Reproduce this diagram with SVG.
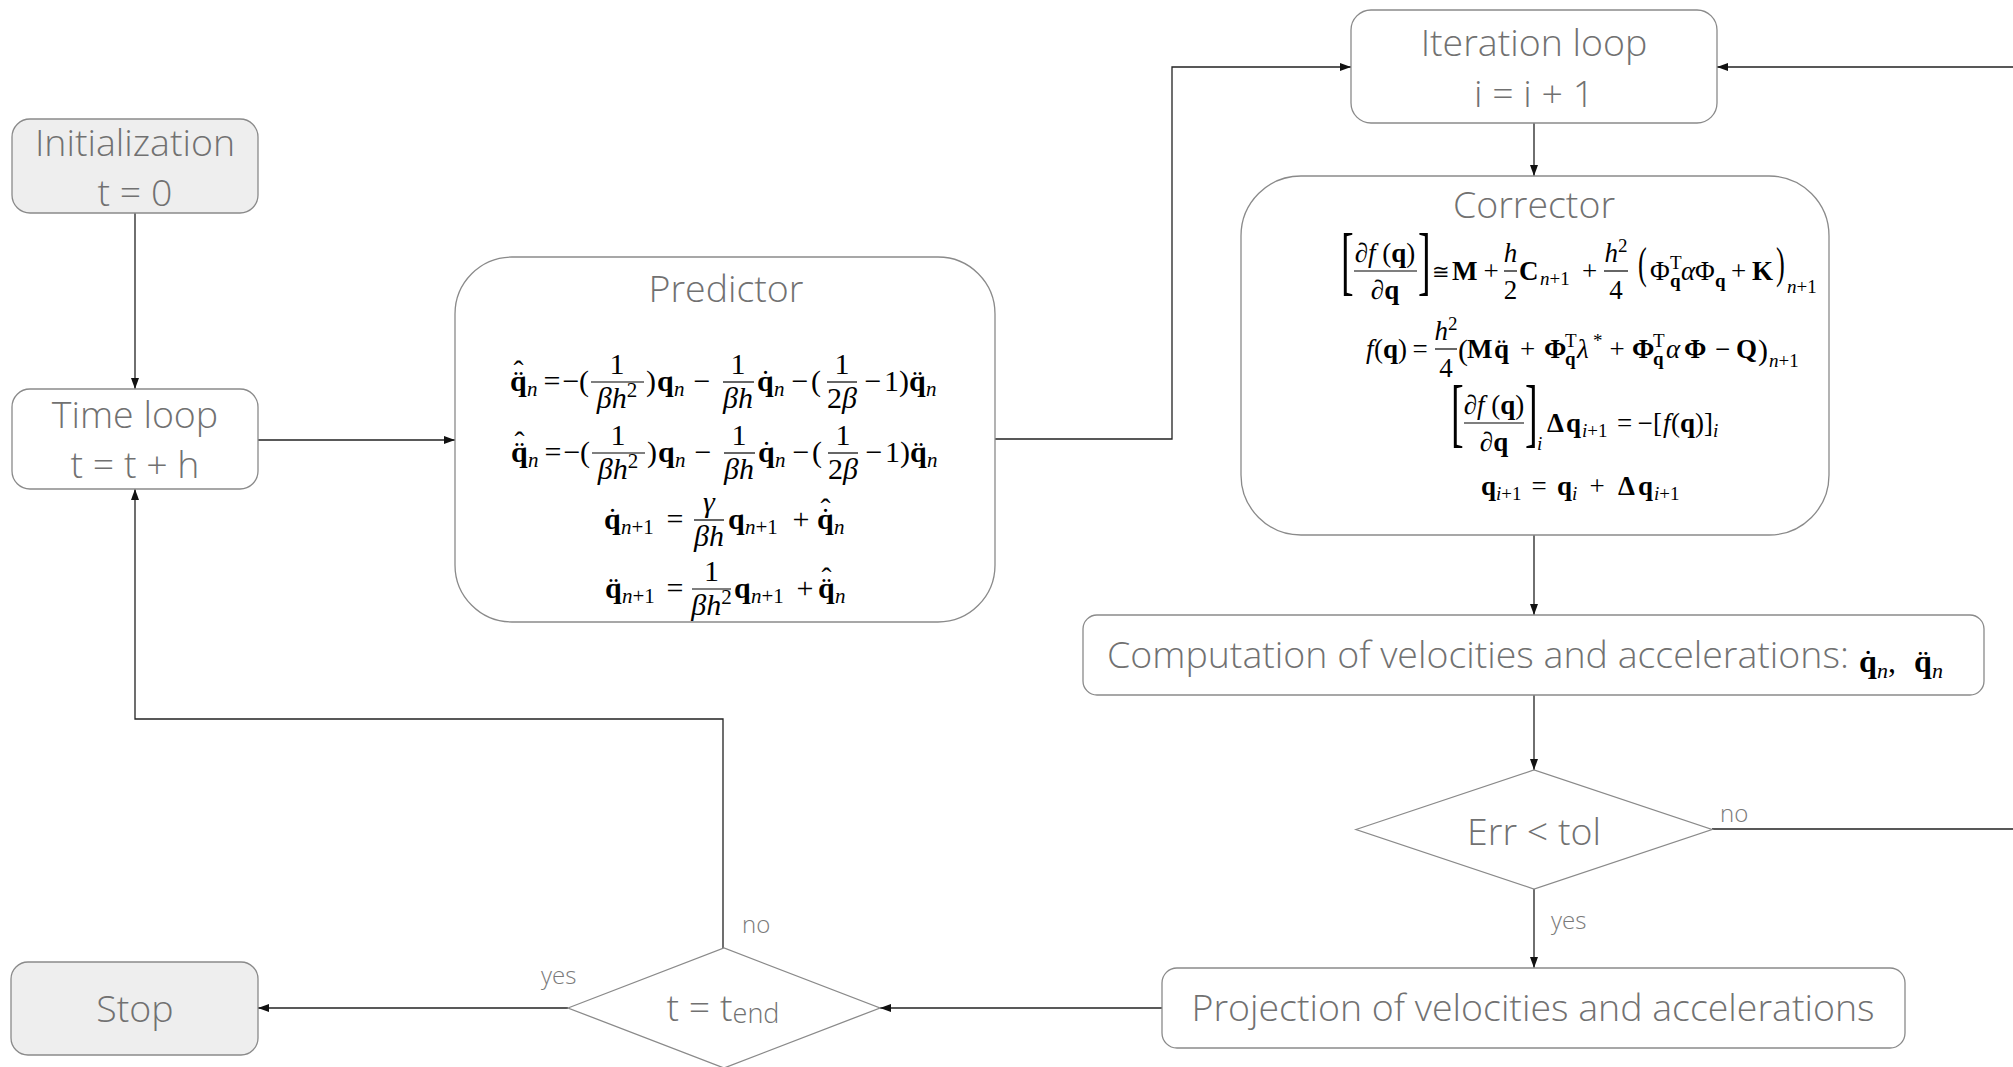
<svg xmlns="http://www.w3.org/2000/svg" width="2013" height="1067" viewBox="0 0 2013 1067">
<style>
.box{fill:#fff;stroke:#8a8a8a;stroke-width:1.3}
.term{fill:#eeeeee;stroke:#8a8a8a;stroke-width:1.3}
.lbl{font-family:"Open Sans","Liberation Sans",sans-serif;font-weight:300;fill:#717171;font-size:37.5px;text-anchor:middle}
.tag{font-family:"Open Sans","Liberation Sans",sans-serif;font-weight:300;fill:#7a7a7a;font-size:24px}
.wire{fill:none;stroke:#222;stroke-width:1.3}
.m{font-family:"Liberation Serif","DejaVu Serif",serif;fill:#000}
.p{font-size:30px}
.c{font-size:27px}
.ps{font-size:21px}
.cs{font-size:19px}
.b{font-weight:bold}
.i{font-style:italic}
.u{font-style:normal}
.a{text-anchor:middle}
.bar{stroke:#000;stroke-width:1.2}
</style>
<defs>
<marker id="arr" markerUnits="userSpaceOnUse" markerWidth="11" markerHeight="8" refX="11" refY="4" orient="auto">
<path d="M0,0 L11,4 L0,8 z" fill="#111"/>
</marker>
</defs>

<!-- connectors -->
<g id="connectors" class="wire" marker-end="url(#arr)">
<path d="M135,213 V389"/>
<path d="M258,440 H455"/>
<path d="M995,439 H1172 V67 H1351"/>
<path d="M1534,123 V176"/>
<path d="M1534,535 V615"/>
<path d="M1534,695 V770"/>
<path d="M1712,829 H2040 V67 H1717"/>
<path d="M1534,889 V968"/>
<path d="M1162,1008 H880"/>
<path d="M568,1008 H258"/>
<path d="M723,948 V719 H135 V489"/>
</g>
<g id="edge-labels">
<text class="tag" x="1720" y="822">no</text>
<text class="tag" x="1551" y="929">yes</text>
<text class="tag" x="742" y="933">no</text>
<text class="tag" x="541" y="984">yes</text>
</g>

<!-- start -->
<g id="init">
<rect class="term" x="12" y="119" width="246" height="94" rx="18"/>
<text class="lbl" x="135" y="156">Initialization</text>
<text class="lbl" x="135" y="206">t = 0</text>
</g>

<g id="timeloop">
<rect class="box" x="12" y="389" width="246" height="100" rx="18"/>
<text class="lbl" x="135" y="428">Time loop</text>
<text class="lbl" x="135" y="478">t = t + h</text>
</g>

<!-- predictor step -->
<g id="predictor">
<rect class="box" x="455" y="257" width="540" height="365" rx="57"/>
<text class="lbl" x="726" y="302">Predictor</text>
<g class="m p">
<g id="pred-row1" transform="translate(0,391)">
<text class="b" x="510" y="0">q</text>
<text class="a" x="518.5" y="0">¨</text>
<text class="a" x="518.5" y="-10">ˆ</text>
<text class="i ps" x="527" y="5">n</text>
<text class="a" x="552" y="0">=</text>
<text class="a" x="571" y="0">−</text>
<text x="579" y="0">(</text>
<text class="a" x="617" y="-17">1</text>
<line class="bar" x1="591" y1="-9" x2="644" y2="-9"/>
<text class="a" x="617" y="17"><tspan class="i">βh</tspan><tspan class="ps" dy="-11">2</tspan></text>
<text x="646" y="0">)</text>
<text class="b" x="657" y="0">q</text>
<text class="i ps" x="674" y="5">n</text>
<text class="a" x="702" y="0">−</text>
<text class="a" x="738" y="-17">1</text>
<line class="bar" x1="723" y1="-9" x2="754" y2="-9"/>
<text class="a i" x="738" y="17">βh</text>
<text class="b" x="757" y="0">q</text>
<text class="a" x="765.5" y="0">˙</text>
<text class="i ps" x="774" y="5">n</text>
<text class="a" x="800" y="0">−</text>
<text x="811" y="0">(</text>
<text class="a" x="842" y="-17">1</text>
<line class="bar" x1="827" y1="-9" x2="857" y2="-9"/>
<text class="a" x="842" y="17">2<tspan class="i">β</tspan></text>
<text class="a" x="873" y="0">−</text>
<text x="884" y="0">1</text>
<text x="899" y="0">)</text>
<text class="b" x="909" y="0">q</text>
<text class="a" x="917.5" y="0">¨</text>
<text class="i ps" x="926" y="5">n</text>
</g>
<g id="pred-row2" transform="translate(1,462)">
<text class="b" x="510" y="0">q</text>
<text class="a" x="518.5" y="0">¨</text>
<text class="a" x="518.5" y="-10">ˆ</text>
<text class="i ps" x="527" y="5">n</text>
<text class="a" x="552" y="0">=</text>
<text class="a" x="571" y="0">−</text>
<text x="579" y="0">(</text>
<text class="a" x="617" y="-17">1</text>
<line class="bar" x1="591" y1="-9" x2="644" y2="-9"/>
<text class="a" x="617" y="17"><tspan class="i">βh</tspan><tspan class="ps" dy="-11">2</tspan></text>
<text x="646" y="0">)</text>
<text class="b" x="657" y="0">q</text>
<text class="i ps" x="674" y="5">n</text>
<text class="a" x="702" y="0">−</text>
<text class="a" x="738" y="-17">1</text>
<line class="bar" x1="723" y1="-9" x2="754" y2="-9"/>
<text class="a i" x="738" y="17">βh</text>
<text class="b" x="757" y="0">q</text>
<text class="a" x="765.5" y="0">˙</text>
<text class="i ps" x="774" y="5">n</text>
<text class="a" x="800" y="0">−</text>
<text x="811" y="0">(</text>
<text class="a" x="842" y="-17">1</text>
<line class="bar" x1="827" y1="-9" x2="857" y2="-9"/>
<text class="a" x="842" y="17">2<tspan class="i">β</tspan></text>
<text class="a" x="873" y="0">−</text>
<text x="884" y="0">1</text>
<text x="899" y="0">)</text>
<text class="b" x="909" y="0">q</text>
<text class="a" x="917.5" y="0">¨</text>
<text class="i ps" x="926" y="5">n</text>
</g>
<g id="pred-row3" transform="translate(0,529)">
<text class="b" x="604" y="0">q</text>
<text class="a" x="612.5" y="0">˙</text>
<text class="i ps" x="621" y="5">n<tspan class="u">+1</tspan></text>
<text class="a" x="675" y="0">=</text>
<text class="a i" x="709" y="-17">γ</text>
<line class="bar" x1="694" y1="-9" x2="724" y2="-9"/>
<text class="a i" x="709" y="17">βh</text>
<text class="b" x="728" y="0">q</text>
<text class="i ps" x="745" y="5">n<tspan class="u">+1</tspan></text>
<text class="a" x="801" y="0">+</text>
<text class="b" x="817" y="0">q</text>
<text class="a" x="825.5" y="0">˙</text>
<text class="a" x="825.5" y="-10">ˆ</text>
<text class="i ps" x="834" y="5">n</text>
</g>
<g id="pred-row4" transform="translate(0,598)">
<text class="b" x="605" y="0">q</text>
<text class="a" x="613.5" y="0">¨</text>
<text class="i ps" x="622" y="5">n<tspan class="u">+1</tspan></text>
<text class="a" x="675" y="0">=</text>
<text class="a" x="711.5" y="-17">1</text>
<line class="bar" x1="692" y1="-9" x2="731" y2="-9"/>
<text class="a" x="711.5" y="17"><tspan class="i">βh</tspan><tspan class="ps" dy="-11">2</tspan></text>
<text class="b" x="734" y="0">q</text>
<text class="i ps" x="751" y="5">n<tspan class="u">+1</tspan></text>
<text class="a" x="805" y="0">+</text>
<text class="b" x="818" y="0">q</text>
<text class="a" x="826.5" y="0">¨</text>
<text class="a" x="826.5" y="-10">ˆ</text>
<text class="i ps" x="835" y="5">n</text>
</g>
</g>
</g>

<g id="iteration">
<rect class="box" x="1351" y="10" width="366" height="113" rx="20"/>
<text class="lbl" x="1534" y="56">Iteration loop</text>
<text class="lbl" x="1534" y="107">i = i + 1</text>
</g>

<!-- corrector step -->
<g id="corrector">
<rect class="box" x="1241" y="176" width="588" height="359" rx="60"/>
<text class="lbl" x="1534" y="218">Corrector</text>
<g class="m c">
<g id="corr-row1" transform="translate(0,280)">
<text font-size="76" transform="translate(1341,6) scale(0.5,1)">[</text>
<text class="a" x="1385" y="-18"><tspan class="i">∂f</tspan> (<tspan class="b">q</tspan>)</text>
<line class="bar" x1="1354" y1="-9" x2="1417" y2="-9"/>
<text class="a" x="1385" y="19"><tspan class="i">∂</tspan><tspan class="b">q</tspan></text>
<text font-size="76" transform="translate(1418,6) scale(0.5,1)">]</text>
<text class="a" font-size="21" x="1441" y="-1">≅</text>
<text class="b" x="1452" y="0">M</text>
<text class="a" x="1491" y="0">+</text>
<text class="a i" x="1510.5" y="-18">h</text>
<line class="bar" x1="1504" y1="-9" x2="1517" y2="-9"/>
<text class="a" x="1510.5" y="19">2</text>
<text class="b" x="1519" y="0">C</text>
<text class="i cs" x="1540" y="5">n<tspan class="u">+1</tspan></text>
<text class="a" x="1589.5" y="0">+</text>
<text class="a" x="1616" y="-18"><tspan class="i">h</tspan><tspan class="cs" dy="-10">2</tspan></text>
<line class="bar" x1="1604" y1="-9" x2="1628" y2="-9"/>
<text class="a" x="1616" y="19">4</text>
<text font-size="44" transform="translate(1638,-2) scale(0.6,1)">(</text>
<text x="1650" y="0">Φ</text>
<text class="cs" x="1670" y="-11">T</text>
<text class="cs b" x="1670" y="7">q</text>
<text class="i" x="1681" y="0">α</text>
<text x="1695" y="0">Φ</text>
<text class="cs b" x="1715" y="7">q</text>
<text class="a" x="1738.5" y="0">+</text>
<text class="b" x="1752" y="0">K</text>
<text font-size="44" transform="translate(1776,-2) scale(0.6,1)">)</text>
<text class="i cs" x="1787" y="13">n<tspan class="u">+1</tspan></text>
</g>
<g id="corr-row2" transform="translate(0,358)">
<text class="i" x="1366" y="0">f</text>
<text x="1374" y="0">(</text>
<text class="b" x="1383" y="0">q</text>
<text x="1398" y="0">)</text>
<text class="a" x="1420" y="0">=</text>
<text class="a" x="1446" y="-18"><tspan class="i">h</tspan><tspan class="cs" dy="-10">2</tspan></text>
<line class="bar" x1="1435" y1="-9" x2="1457" y2="-9"/>
<text class="a" x="1446" y="19">4</text>
<text font-size="30" x="1458" y="2">(</text>
<text class="b" x="1467" y="0">M</text>
<text class="b" x="1494" y="0">q</text>
<text class="a" x="1501.5" y="0">¨</text>
<text class="a" x="1527.5" y="0">+</text>
<text class="b" x="1544" y="0">Φ</text>
<text class="cs" x="1565" y="-11">T</text>
<text class="cs b" x="1565" y="7">q</text>
<text class="i" x="1577" y="0">λ</text>
<text class="cs" x="1593" y="-11">*</text>
<text class="a" x="1617" y="0">+</text>
<text class="b" x="1632" y="0">Φ</text>
<text class="cs" x="1653" y="-11">T</text>
<text class="cs b" x="1653" y="7">q</text>
<text class="i" x="1666" y="0">α</text>
<text class="b" x="1684" y="0">Φ</text>
<text class="a" x="1722.5" y="0">−</text>
<text class="b" x="1736" y="0">Q</text>
<text font-size="30" x="1758" y="2">)</text>
<text class="i cs" x="1769" y="9">n<tspan class="u">+1</tspan></text>
</g>
<g id="corr-row3" transform="translate(0,432)">
<text font-size="76" transform="translate(1451,6) scale(0.5,1)">[</text>
<text class="a" x="1494" y="-18"><tspan class="i">∂f</tspan> (<tspan class="b">q</tspan>)</text>
<line class="bar" x1="1464" y1="-9" x2="1524" y2="-9"/>
<text class="a" x="1494" y="19"><tspan class="i">∂</tspan><tspan class="b">q</tspan></text>
<text font-size="76" transform="translate(1525,6) scale(0.5,1)">]</text>
<text class="i cs" x="1537" y="18">i</text>
<text class="b" x="1547" y="0">Δ</text>
<text class="b" x="1566" y="0">q</text>
<text class="i cs" x="1582" y="5">i<tspan class="u">+1</tspan></text>
<text class="a" x="1624.5" y="0">=</text>
<text class="a" x="1645" y="0">−</text>
<text x="1653" y="0">[</text>
<text class="i" x="1663" y="0">f</text>
<text x="1671" y="0">(</text>
<text class="b" x="1680" y="0">q</text>
<text x="1695" y="0">)</text>
<text x="1704" y="0">]</text>
<text class="i cs" x="1713" y="5">i</text>
</g>
<g id="corr-row4" transform="translate(0,495)">
<text class="b" x="1481" y="0">q</text>
<text class="i cs" x="1496" y="5">i<tspan class="u">+1</tspan></text>
<text class="a" x="1539" y="0">=</text>
<text class="b" x="1557" y="0">q</text>
<text class="i cs" x="1572" y="5">i</text>
<text class="a" x="1597" y="0">+</text>
<text class="b" x="1618" y="0">Δ</text>
<text class="b" x="1638" y="0">q</text>
<text class="i cs" x="1654" y="5">i<tspan class="u">+1</tspan></text>
</g>
</g>
</g>

<g id="computation">
<rect class="box" x="1083" y="615" width="901" height="80" rx="14"/>
<text class="lbl" x="1107" y="668" style="text-anchor:start">Computation of velocities and accelerations:</text>
<g class="m" font-size="32">
<text class="b" x="1859" y="672">q</text>
<text class="a" x="1868" y="672">˙</text>
<text class="i" font-size="22" x="1877" y="678">n</text>
<text x="1888" y="672">,</text>
<text class="b" x="1914" y="672">q</text>
<text class="a" x="1923" y="672">¨</text>
<text class="i" font-size="22" x="1932" y="678">n</text>
</g>
</g>

<g id="converged">
<polygon class="box" points="1356,829.5 1534,770 1712,829.5 1534,889"/>
<text class="lbl" x="1534" y="845">Err &lt; tol</text>
</g>

<g id="projection">
<rect class="box" x="1162" y="968" width="743" height="80" rx="15"/>
<text class="lbl" x="1533" y="1021">Projection of velocities and accelerations</text>
</g>

<g id="end-check">
<polygon class="box" points="568,1008 724,948 880,1008 724,1068"/>
<text class="lbl" x="723" y="1021">t = t<tspan font-size="27" dy="2">end</tspan></text>
</g>

<g id="stop">
<rect class="term" x="11" y="962" width="247" height="93" rx="17"/>
<text class="lbl" x="135" y="1022">Stop</text>
</g>
</svg>
